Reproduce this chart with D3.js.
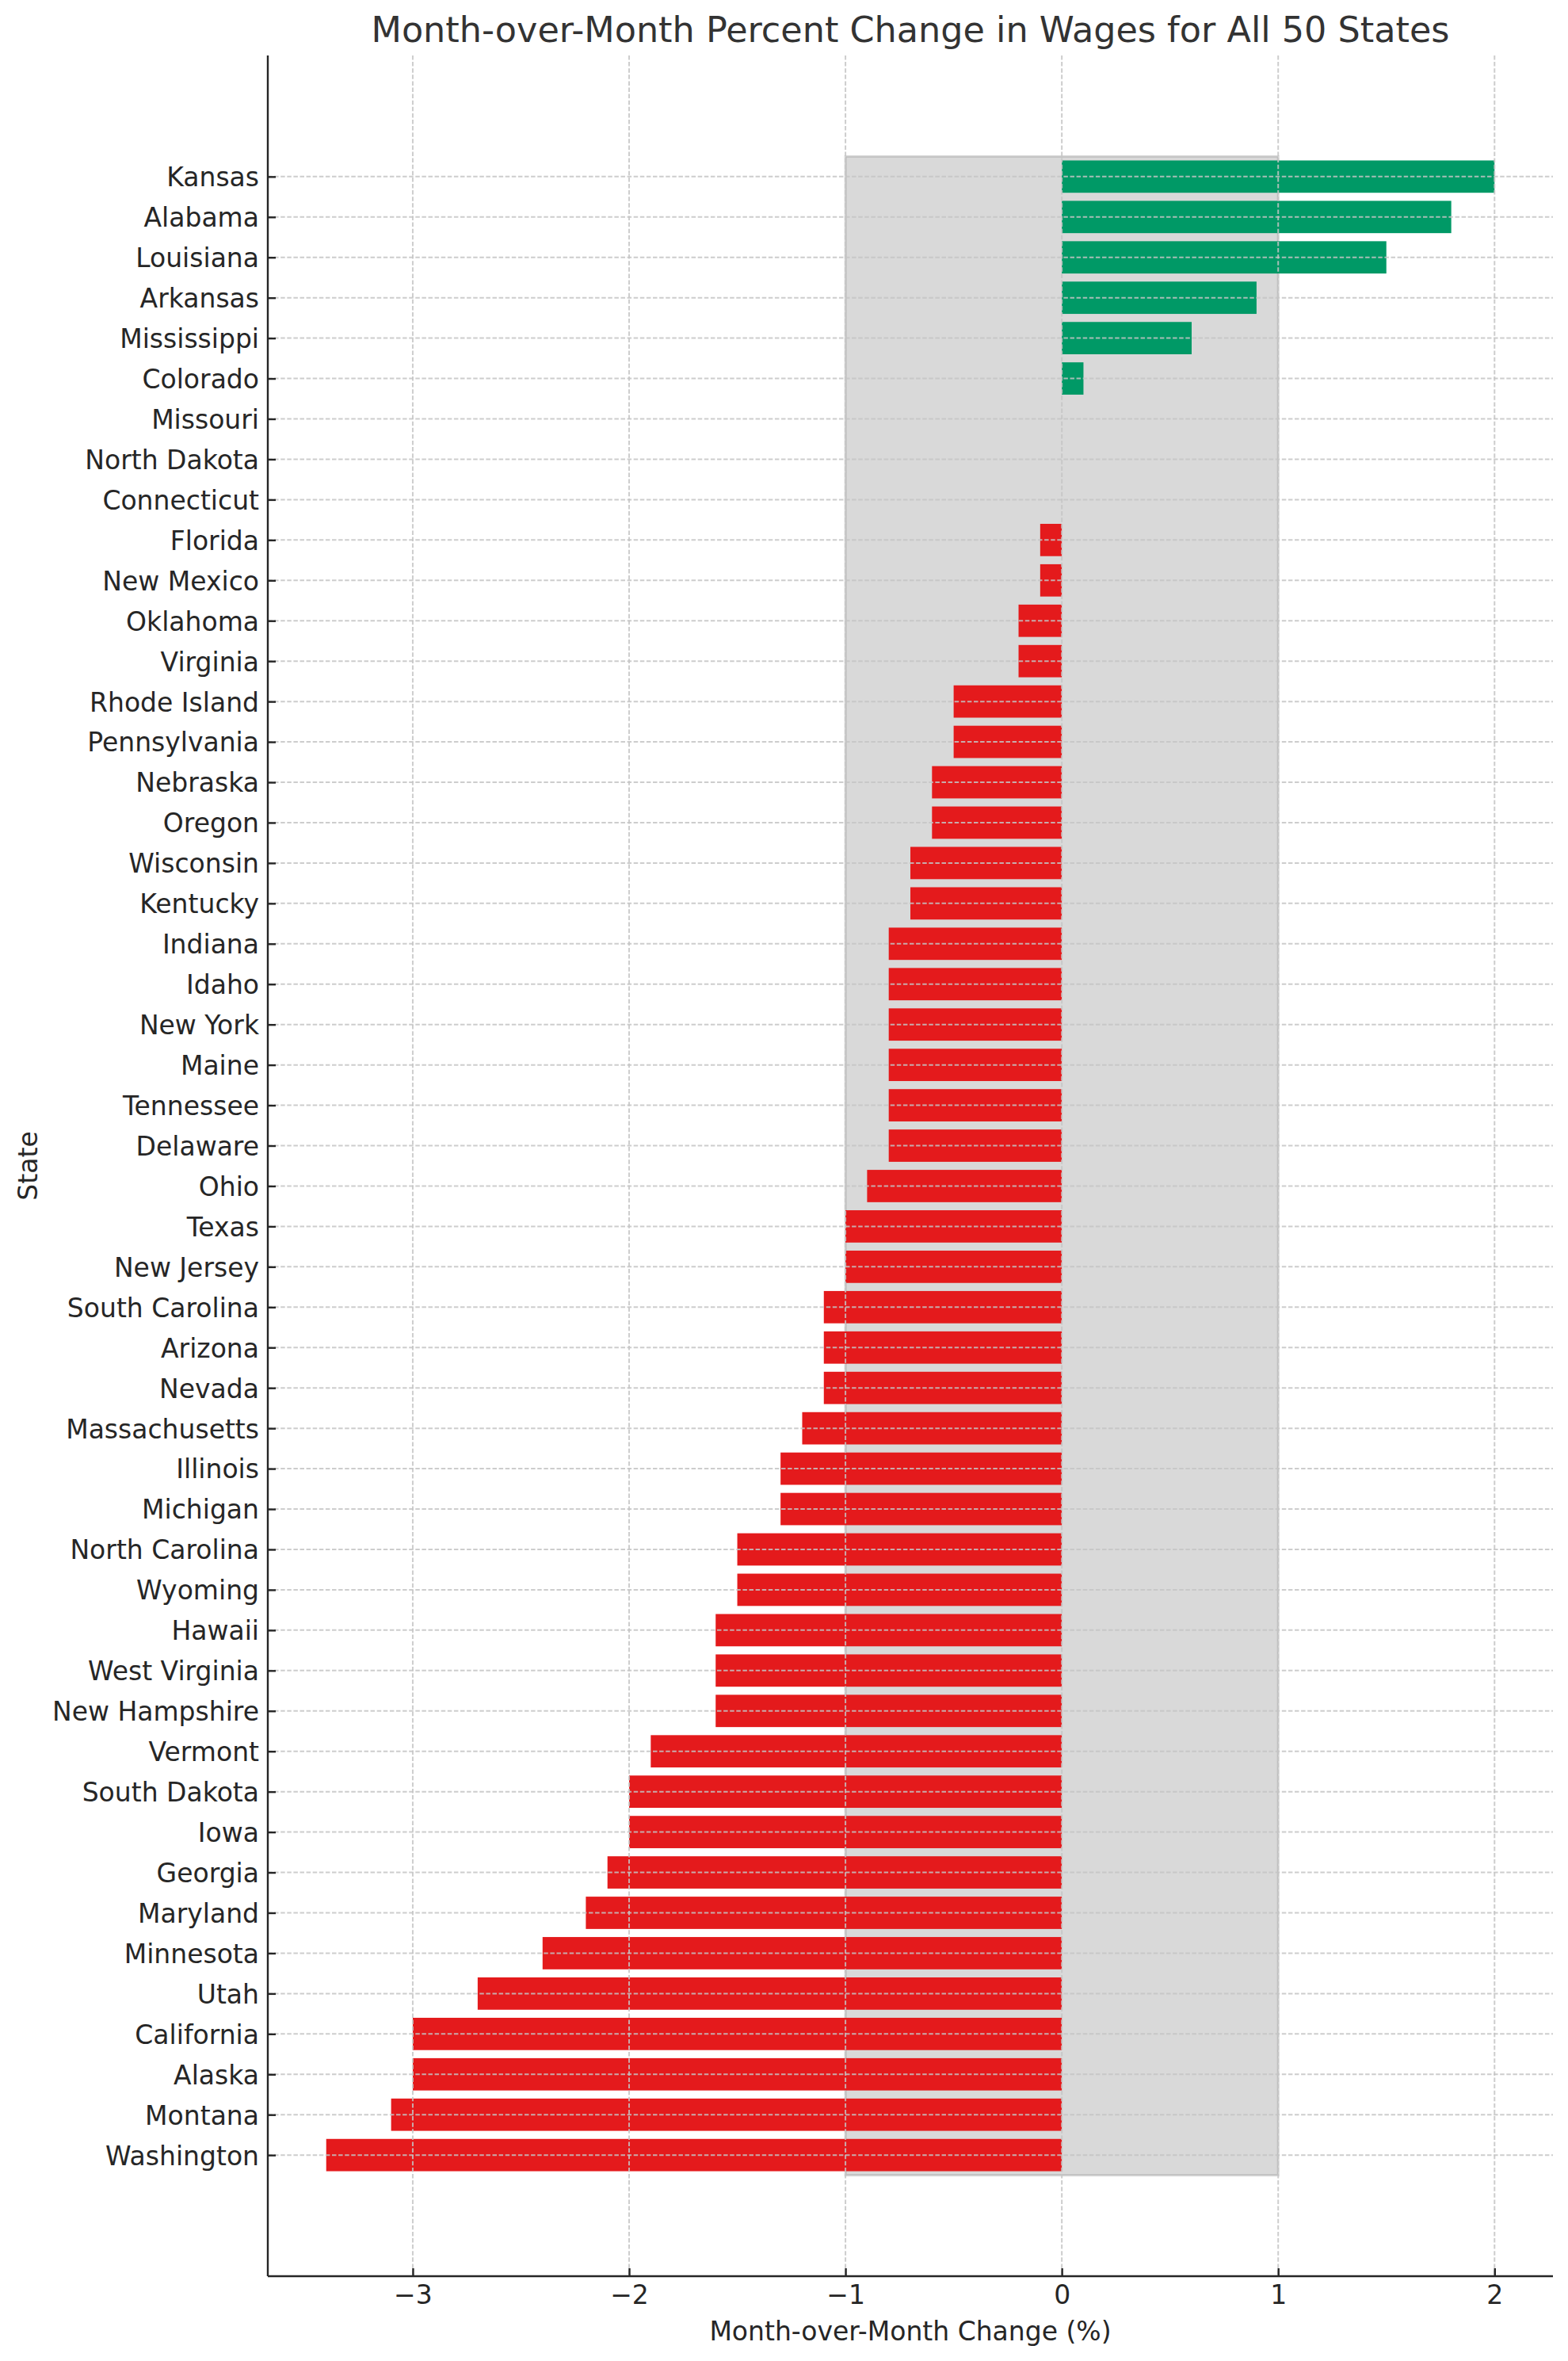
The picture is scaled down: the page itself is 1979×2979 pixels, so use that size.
<!DOCTYPE html>
<html>
<head>
<meta charset="utf-8">
<script src="https://cdn.jsdelivr.net/npm/d3@7"></script>
<style>
  html, body { margin: 0; padding: 0; background: #ffffff; }
  svg { display: block; font-family: "DejaVu Sans", sans-serif; }
</style>
</head>
<body>
<script>
// ---- data (top to bottom as drawn) ----
const states = ["Kansas","Alabama","Louisiana","Arkansas","Mississippi","Colorado","Missouri","North Dakota","Connecticut","Florida","New Mexico","Oklahoma","Virginia","Rhode Island","Pennsylvania","Nebraska","Oregon","Wisconsin","Kentucky","Indiana","Idaho","New York","Maine","Tennessee","Delaware","Ohio","Texas","New Jersey","South Carolina","Arizona","Nevada","Massachusetts","Illinois","Michigan","North Carolina","Wyoming","Hawaii","West Virginia","New Hampshire","Vermont","South Dakota","Iowa","Georgia","Maryland","Minnesota","Utah","California","Alaska","Montana","Washington"];
const changes = [2.0,1.8,1.5,0.9,0.6,0.1,0,0,0,-0.1,-0.1,-0.2,-0.2,-0.5,-0.5,-0.6,-0.6,-0.7,-0.7,-0.8,-0.8,-0.8,-0.8,-0.8,-0.8,-0.9,-1.0,-1.0,-1.1,-1.1,-1.1,-1.2,-1.3,-1.3,-1.5,-1.5,-1.6,-1.6,-1.6,-1.9,-2.0,-2.0,-2.1,-2.2,-2.4,-2.7,-3.0,-3.0,-3.1,-3.4];
const xTicks = [-3,-2,-1,0,1,2];
const bandRange = [-1, 1];
const titleText = "Month-over-Month Percent Change in Wages for All 50 States";
const xLabelText = "Month-over-Month Change (%)";
const yLabelText = "State";

// ---- layout ----
const W = 1979, H = 2979;
const mLeft = 338, mRight = 1960, mTop = 70, mBottom = 2872;
const n = states.length;

const svg = d3.select("body").append("svg").attr("width", W).attr("height", H);

const x = d3.scaleLinear().domain([-3.67, 2.27]).range([mLeft, mRight]);
const y = d3.scaleLinear().domain([-3, n + 2]).range([mBottom, mTop]);
const pos = i => n - 1 - i;   // first state at top
const barH = 0.8;

// grey band
svg.append("rect")
  .attr("x", x(bandRange[0])).attr("width", x(bandRange[1]) - x(bandRange[0]))
  .attr("y", y(n - 0.5)).attr("height", y(-0.5) - y(n - 0.5))
  .attr("fill", "gray").attr("fill-opacity", 0.3)
  .attr("stroke", "gray").attr("stroke-opacity", 0.3).attr("stroke-width", 3);

// bars
svg.append("g").selectAll("rect").data(states).join("rect")
  .attr("x", (d, i) => x(Math.min(0, changes[i])))
  .attr("width", (d, i) => Math.abs(x(changes[i]) - x(0)))
  .attr("y", (d, i) => y(pos(i) + barH / 2))
  .attr("height", y(0) - y(barH))
  .attr("fill", (d, i) => changes[i] >= 0 ? "#009966" : "#e41a1c");

// grid (drawn above bars)
const grid = svg.append("g").attr("stroke", "#c4c4c4").attr("stroke-opacity", 0.85)
  .attr("stroke-width", 2).attr("stroke-dasharray", "5.5,2.6");
grid.selectAll("line.v").data(xTicks).join("line").attr("class", "v")
  .attr("x1", d => x(d)).attr("x2", d => x(d)).attr("y1", mTop).attr("y2", mBottom);
grid.selectAll("line.h").data(states).join("line").attr("class", "h")
  .attr("x1", mLeft).attr("x2", mRight)
  .attr("y1", (d, i) => y(pos(i))).attr("y2", (d, i) => y(pos(i)));

// axes
const yAxis = d3.axisLeft(d3.scaleOrdinal().domain(states).range(states.map((s, i) => y(pos(i)))))
  .tickSize(-10).tickPadding(11);
const gy = svg.append("g").attr("transform", `translate(${mLeft},0)`).call(yAxis);
gy.select(".domain").remove();
gy.append("line").attr("x1", 0).attr("x2", 0).attr("y1", mTop).attr("y2", mBottom)
  .attr("stroke", "#262626").attr("stroke-width", 2.4);
gy.selectAll(".tick line").attr("stroke", "#262626").attr("stroke-width", 2.4);
gy.selectAll(".tick text").attr("fill", "#262626").style("font-size", "33px")
  .style("font-family", "DejaVu Sans").attr("dy", "0.36em");

const xAxis = d3.axisBottom(x).tickValues(xTicks).tickSize(-10).tickPadding(12)
  .tickFormat(d => d < 0 ? "\u2212" + Math.abs(d) : String(d));
const gx = svg.append("g").attr("transform", `translate(0,${mBottom})`).call(xAxis);
gx.select(".domain").remove();
gx.append("line").attr("x1", mLeft).attr("x2", mRight).attr("y1", 0).attr("y2", 0)
  .attr("stroke", "#262626").attr("stroke-width", 2.4);
gx.selectAll(".tick line").attr("stroke", "#262626").attr("stroke-width", 2.4);
gx.selectAll(".tick text").attr("fill", "#262626").style("font-size", "33px")
  .style("font-family", "DejaVu Sans");

// labels
svg.append("text").attr("x", (mLeft + mRight) / 2).attr("y", 53)
  .attr("text-anchor", "middle").attr("fill", "#333333")
  .style("font-size", "44.5px").text(titleText);
svg.append("text").attr("x", (mLeft + mRight) / 2).attr("y", 2953)
  .attr("text-anchor", "middle").attr("fill", "#262626")
  .style("font-size", "33px").text(xLabelText);
svg.append("text").attr("transform", `translate(47,${(mTop + mBottom) / 2}) rotate(-90)`)
  .attr("text-anchor", "middle").attr("fill", "#262626")
  .style("font-size", "33px").text(yLabelText);
</script>
</body>
</html>
